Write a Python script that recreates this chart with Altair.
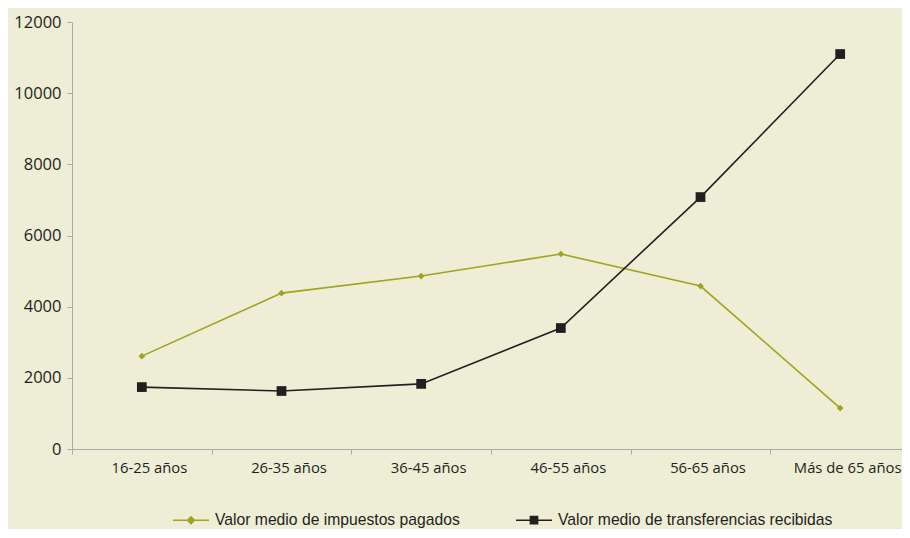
import altair as alt
import pandas as pd

categories = ["16-25 años", "26-35 años", "36-45 años", "46-55 años", "56-65 años", "Más de 65 años"]
series_names = ["Valor medio de impuestos pagados", "Valor medio de transferencias recibidas"]
impuestos = [2610, 4380, 4860, 5480, 4580, 1150]
transferencias = [1740, 1630, 1830, 3400, 7080, 11100]
y_ticks = [0, 2000, 4000, 6000, 8000, 10000, 12000]
colors = ["#a0a31c", "#231f20"]
marker_shapes = ["diamond", "square"]
marker_sizes = [45, 95]

rows = []
for c, v in zip(categories, impuestos):
    rows.append({"edad": c, "serie": series_names[0], "valor": v})
for c, v in zip(categories, transferencias):
    rows.append({"edad": c, "serie": series_names[1], "valor": v})
df = pd.DataFrame(rows)

AXIS_COLOR = "#a8a8a8"
BG = "#eeedd6"

green_path = "M-1,0H1M0,-0.19L0.19,0L0,0.19L-0.19,0Z"
black_path = "M-1,0H1M-0.2,-0.2H0.2V0.2H-0.2Z"
sym_cond = "datum.value === '%s'" % series_names[0]
color_expr = "%s ? '%s' : '%s'" % (sym_cond, colors[0], colors[1])

x_enc = alt.X(
    "edad:N",
    sort=categories,
    scale=alt.Scale(paddingInner=0, paddingOuter=0),
    axis=alt.Axis(
        title=None, labelAngle=0, tickBand="extent", tickSize=5,
        domainColor=AXIS_COLOR, tickColor=AXIS_COLOR, labelPadding=6, labelOffset=7,
        labelFont="Open Sans", labelFontSize=14.8, labelColor="#231f20",
    ),
)
y_enc = alt.Y(
    "valor:Q",
    scale=alt.Scale(domain=[0, 12000], nice=False),
    axis=alt.Axis(
        title=None, values=y_ticks, grid=False, tickSize=5, format="d",
        domainColor=AXIS_COLOR, tickColor=AXIS_COLOR, labelPadding=6,
        labelFont="Open Sans", labelFontSize=16.5, labelColor="#231f20",
    ),
)
color_scale = alt.Scale(domain=series_names, range=colors)

lines = alt.Chart(df).mark_line(strokeWidth=1.6).encode(
    x=x_enc,
    y=y_enc,
    color=alt.Color(
        "serie:N",
        scale=color_scale,
        legend=alt.Legend(
            title=None, orient="none", direction="horizontal",
            legendX=100, legendY=479, padding=0,
            labelFont="Liberation Sans", labelFontSize=15.7, labelColor="#231f20",
            labelLimit=0,
            symbolSize=1300, symbolStrokeWidth=1.5, labelOffset=5,
            columnPadding=52,
            symbolType={"expr": "%s ? '%s' : '%s'" % (sym_cond, green_path, black_path)},
            symbolFillColor={"expr": color_expr},
            symbolStrokeColor={"expr": color_expr},
            symbolOpacity=1,
        ),
    ),
)

point_layers = []
for name, shp, sz in zip(series_names, marker_shapes, marker_sizes):
    point_layers.append(
        alt.Chart(df)
        .transform_filter(alt.datum.serie == name)
        .mark_point(filled=True, opacity=1, strokeWidth=0, shape=shp, size=sz)
        .encode(
            x=x_enc,
            y=y_enc,
            fill=alt.Fill("serie:N", scale=color_scale, legend=None),
        )
    )

chart = (
    alt.layer(lines, *point_layers)
    .properties(
        width=838, height=427,
        background=BG,
        padding={"left": 64, "top": 14, "right": -8, "bottom": 80},
        autosize=alt.AutoSizeParams(type="none"),
    )
    .configure_view(stroke=None)
)

chart.save("out.html", embed_options={"renderer": "svg", "actions": False})
